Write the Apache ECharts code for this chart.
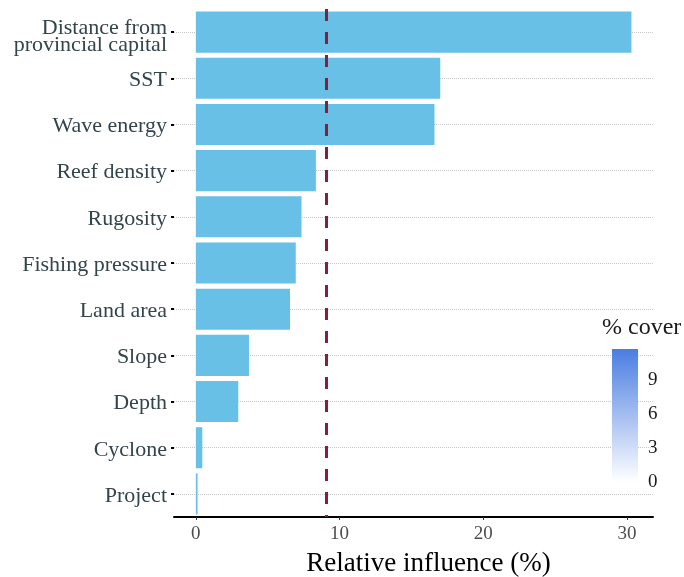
<!DOCTYPE html>
<html>
<head>
<meta charset="utf-8">
<script src="https://cdn.jsdelivr.net/npm/echarts@6/dist/echarts.min.js"></script>
<style>
  html, body { margin: 0; padding: 0; background: #fff; }
  #chart { width: 684px; height: 577px; }
</style>
</head>
<body>
<div id="chart"></div>
<script>
// predictors, top to bottom
const categories = [
  "Distance from\nprovincial capital", "SST", "Wave energy", "Reef density",
  "Rugosity", "Fishing pressure", "Land area", "Slope", "Depth", "Cyclone", "Project"
];
const influence = [30.3, 17.0, 16.6, 8.35, 7.35, 6.95, 6.55, 3.7, 2.95, 0.45, 0.12];
const threshold = 9.09;
const xTicks = [0, 10, 20, 30];
const xRange = [-1.52, 31.8];
// colour bar legend
const coverTicks = [0, 3, 6, 9];
const coverRange = [0, 11.7];

const serif = "Liberation Serif";

let chart = echarts.init(document.getElementById("chart"));

let option = {
  backgroundColor: "#ffffff",
  animation: false,
  title: {
    text: "% cover",
    left: 597,
    top: 311,
    textStyle: { fontFamily: serif, fontSize: 24, fontWeight: "normal", color: "#1a1a1a" }
  },
  grid: [
    { left: 174, right: 31, top: 9, height: 508, outerBoundsMode: "none" },
    { left: 612, top: 349, width: 26, height: 133, outerBoundsMode: "none" }
  ],
  xAxis: [
    {
      type: "value",
      min: xRange[0],
      max: xRange[1],
      name: "Relative influence (%)",
      nameLocation: "middle",
      nameGap: 33,
      nameTextStyle: { fontFamily: serif, fontSize: 27, color: "#000", padding: [0, 0, 0, 30] },
      axisLine: { show: true, onZero: false, lineStyle: { color: "#000", width: 2 } },
      axisTick: { show: true, length: 3, customValues: xTicks, lineStyle: { color: "#333" } },
      axisLabel: { customValues: xTicks, fontFamily: serif, fontSize: 19, color: "#4d4d4d", margin: 8 },
      splitLine: { show: false }
    },
    {
      type: "category",
      gridIndex: 1,
      data: ["cover"],
      show: false
    }
  ],
  yAxis: [
    {
      type: "category",
      data: categories,
      inverse: true,
      axisLine: { show: false, onZero: false },
      axisTick: { show: true, alignWithLabel: true, length: 3, lineStyle: { color: "#000", width: 2 } },
      axisLabel: {
        fontFamily: serif, fontSize: 22, color: "#33444a", margin: 7, padding: [4, 0, 0, 0],
        // the two-line label sits a bit lower than the others: empty spacer line on top
        formatter: (v) => v.indexOf("\n") < 0 ? v
          : "{e| }\n" + v.split("\n").map(s => "{t|" + s + "}").join("\n"),
        rich: {
          e: { fontSize: 4, lineHeight: 6 },
          t: { fontFamily: serif, fontSize: 22, color: "#33444a", lineHeight: 17 }
        }
      },
      splitLine: { show: false }
    },
    {
      type: "value",
      gridIndex: 1,
      position: "right",
      min: coverRange[0],
      max: coverRange[1],
      axisLine: { show: false },
      axisTick: { show: true, inside: true, length: 5, customValues: coverTicks, lineStyle: { color: "#fff", width: 1 } },
      axisLabel: { customValues: coverTicks, fontFamily: serif, fontSize: 19, color: "#1a1a1a", margin: 10 },
      splitLine: { show: false }
    },
    {
      type: "value",
      gridIndex: 1,
      position: "left",
      min: coverRange[0],
      max: coverRange[1],
      axisLine: { show: false },
      axisTick: { show: true, inside: true, length: 5, customValues: coverTicks, lineStyle: { color: "#fff", width: 1 } },
      axisLabel: { show: false },
      splitLine: { show: false }
    }
  ],
  series: [
    {
      // dotted guide lines at each predictor, behind the bars
      type: "line",
      data: [],
      z: 1,
      markLine: {
        silent: true,
        z: 1,
        symbol: "none",
        label: { show: false },
        lineStyle: { color: "#c8c8c8", type: "dotted", width: 1 },
        data: categories.map(c => ({ yAxis: c }))
      }
    },
    {
      type: "bar",
      data: influence,
      z: 3,
      barCategoryGap: "11%",
      itemStyle: { color: "#69c0e6" },
      markLine: {
        silent: true,
        z: 6,
        symbol: "none",
        label: { show: false },
        lineStyle: { color: "#851f3a", type: [12, 11], width: 3 },
        data: [{ xAxis: threshold }]
      }
    },
    {
      type: "bar",
      xAxisIndex: 1,
      yAxisIndex: 1,
      data: [coverRange[1]],
      barWidth: "100%",
      itemStyle: {
        color: new echarts.graphic.LinearGradient(0, 0, 0, 1, [
          { offset: 0, color: "#4a7de2" },
          { offset: 1, color: "#ffffff" }
        ])
      }
    }
  ]
};

chart.setOption(option);
</script>
</body>
</html>
